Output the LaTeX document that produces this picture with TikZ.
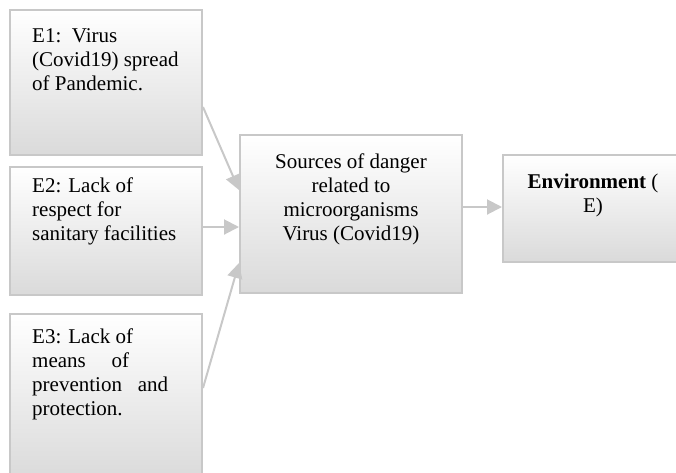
\documentclass[tikz,border=0pt]{standalone}
\usepackage{fontspec}
\setmainfont{Liberation Serif}
\usetikzlibrary{arrows.meta,calc}

\definecolor{edgegray}{RGB}{200,200,200}
\definecolor{fillbottom}{RGB}{218,218,218}

\tikzset{
  box/.style={rectangle, draw=edgegray, line width=2pt, inner sep=0pt,
              top color=white, bottom color=fillbottom},
  boxtext/.style={inner sep=0pt, font=\fontsize{21pt}{24pt}\selectfont},
  link/.style={draw=edgegray, line width=2pt,
               -{Triangle[length=15pt,width=15pt]}},
}
% top-aligned paragraph so that the node's base is the first baseline
\newcommand{\toppar}[2]{\parbox[t]{#1}{\fontsize{21pt}{24pt}\selectfont #2}}

\begin{document}
\begin{tikzpicture}[x=1pt,y=-1pt]
  \useasboundingbox (0,0) rectangle (676,472);

  \begin{scope}
    \clip (0,0) rectangle (676,472);

    % boxes
    \node[box, minimum width=192pt, minimum height=145pt] (e1) at (106,82.5) {};
    \node[box, minimum width=192pt, minimum height=128pt] (e2) at (106,231) {};
    \node[box, minimum width=192pt, minimum height=166pt] (e3) at (106,397) {};
    \node[box, minimum width=222pt, minimum height=158pt] (src) at (351,214) {};
    \node[box, minimum width=180pt, minimum height=107pt] (env) at (593,208.5) {};

    % texts
    \node[boxtext, anchor=base west] (e1t) at (32,42)
      {\toppar{165pt}{\raggedright E1:\ \ Virus\\(Covid19) spread\\of Pandemic.}};
    \node[boxtext, anchor=base west] (e2t) at (32,192)
      {\toppar{165pt}{\raggedright E2: Lack of\\respect for\\sanitary facilities}};
    \node[boxtext, anchor=base west] (e3t) at (32,343)
      {\toppar{165pt}{\raggedright E3: Lack of\\\makebox[97pt][l]{means\hfill of}\\
       \makebox[136pt][l]{prevention\hfill and}\\protection.}};
    \node[boxtext, anchor=base] (srct) at (351,168)
      {\toppar{210pt}{\centering Sources of danger\\related to\\microorganisms\\Virus (Covid19)}};
    \node[boxtext, anchor=base] (envt) at (593,188)
      {\toppar{170pt}{\centering \textbf{Environment} (\\E)}};

    % connectors
    \draw[link] ([yshift=-24.5pt]e1.east) -- ([yshift=24pt]src.west);
    \draw[link] ([yshift=4pt]e2.east) -- ([yshift=-13pt]src.west);
    \draw[link] ([yshift=9pt]e3.east) -- ([yshift=-49pt]src.west);
    \draw[link] ([yshift=7pt]src.east) -- ([yshift=1.5pt]env.west);
  \end{scope}
\end{tikzpicture}
\end{document}
